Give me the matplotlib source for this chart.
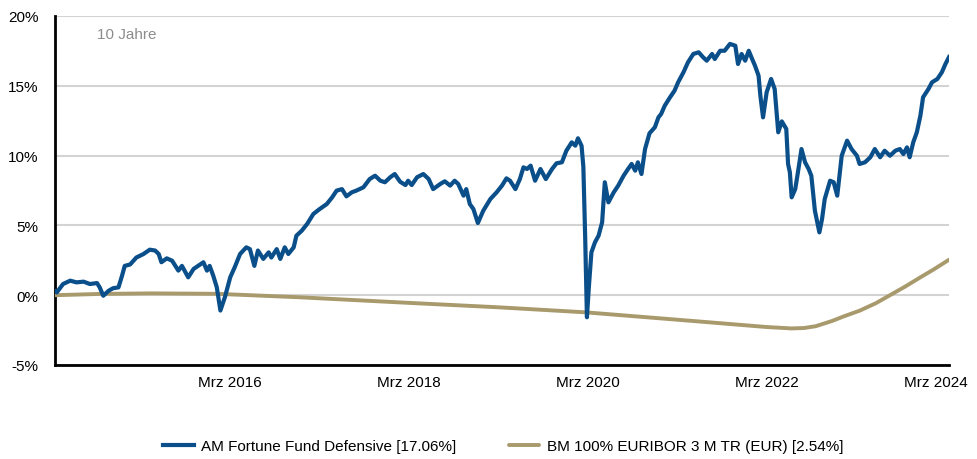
import matplotlib.pyplot as plt
import matplotlib.transforms as mtransforms
import numpy as np

plt.rcParams['font.family'] = ['Liberation Sans', 'DejaVu Sans']

# decimal years, values in %
fund_years = [
    2014.17, 2014.19, 2014.26, 2014.34, 2014.41, 2014.49, 2014.56, 2014.64, 2014.67, 2014.71,
    2014.77, 2014.82, 2014.88, 2014.92, 2014.95, 2015.01, 2015.08, 2015.16, 2015.23, 2015.29,
    2015.33, 2015.36, 2015.42, 2015.48, 2015.55, 2015.59, 2015.66, 2015.72, 2015.77, 2015.83,
    2015.87, 2015.90, 2015.94, 2015.98, 2016.02, 2016.07, 2016.13, 2016.18, 2016.24, 2016.31,
    2016.35, 2016.40, 2016.44, 2016.50, 2016.56, 2016.59, 2016.65, 2016.69, 2016.74, 2016.78,
    2016.84, 2016.87, 2016.93, 2016.99, 2017.06, 2017.13, 2017.21, 2017.27, 2017.32, 2017.38,
    2017.43, 2017.49, 2017.54, 2017.62, 2017.69, 2017.75, 2017.81, 2017.86, 2017.92, 2017.97,
    2018.03, 2018.09, 2018.12, 2018.16, 2018.22, 2018.29, 2018.35, 2018.40, 2018.48, 2018.53,
    2018.59, 2018.64, 2018.68, 2018.74, 2018.77, 2018.81, 2018.85, 2018.90, 2018.96, 2019.04,
    2019.11, 2019.17, 2019.22, 2019.26, 2019.32, 2019.37, 2019.41, 2019.45, 2019.49, 2019.54,
    2019.60, 2019.66, 2019.73, 2019.78, 2019.84, 2019.89, 2019.95, 2019.99, 2020.02, 2020.06,
    2020.08, 2020.10, 2020.12, 2020.14, 2020.17, 2020.21, 2020.25, 2020.29, 2020.32, 2020.36,
    2020.42, 2020.47, 2020.53, 2020.58, 2020.62, 2020.66, 2020.69, 2020.73, 2020.77, 2020.82,
    2020.88, 2020.92, 2020.95, 2020.99, 2021.05, 2021.10, 2021.14, 2021.20, 2021.25, 2021.31,
    2021.37, 2021.42, 2021.46, 2021.52, 2021.55, 2021.61, 2021.66, 2021.72, 2021.78, 2021.81,
    2021.85, 2021.89, 2021.93, 2021.96, 2022.00, 2022.04, 2022.06, 2022.09, 2022.13, 2022.18,
    2022.22, 2022.26, 2022.30, 2022.35, 2022.37, 2022.39, 2022.41, 2022.45, 2022.48, 2022.52,
    2022.56, 2022.60, 2022.63, 2022.67, 2022.72, 2022.75, 2022.78, 2022.84, 2022.88, 2022.92,
    2022.97, 2023.03, 2023.08, 2023.14, 2023.17, 2023.23, 2023.29, 2023.34, 2023.40, 2023.45,
    2023.51, 2023.57, 2023.62, 2023.66, 2023.70, 2023.73, 2023.77, 2023.81, 2023.85, 2023.88,
    2023.94, 2023.98, 2024.04, 2024.09, 2024.13, 2024.17,
]
fund_values = [
    0.30, 0.20, 0.80, 1.04, 0.92, 0.97, 0.80, 0.87, 0.56, -0.04,
    0.32, 0.50, 0.56, 1.40, 2.10, 2.20, 2.70, 2.95, 3.26, 3.20,
    2.95, 2.36, 2.64, 2.47, 1.76, 2.10, 1.28, 1.88, 2.10, 2.36,
    1.76, 2.10, 1.40, 0.56, -1.10, -0.15, 1.28, 2.00, 2.95, 3.43,
    3.30, 2.10, 3.20, 2.60, 3.07, 2.70, 3.30, 2.60, 3.43, 2.95,
    3.43, 4.26, 4.62, 5.10, 5.82, 6.17, 6.53, 7.01, 7.49, 7.60,
    7.08, 7.37, 7.49, 7.73, 8.32, 8.56, 8.20, 8.09, 8.45, 8.68,
    8.13, 7.89, 8.20, 7.89, 8.45, 8.68, 8.32, 7.60, 7.97, 8.16,
    7.85, 8.20, 7.97, 7.13, 7.60, 6.53, 6.17, 5.17, 6.05, 6.89,
    7.37, 7.85, 8.37, 8.20, 7.60, 8.32, 9.16, 9.04, 9.28, 8.20,
    9.04, 8.32, 9.04, 9.45, 9.52, 10.35, 10.95, 10.71, 11.24, 10.70,
    9.20, 4.26, -1.58, 0.44, 3.07, 3.79, 4.26, 5.22, 8.09, 6.65,
    7.37, 7.85, 8.56, 9.04, 9.40, 8.92, 9.52, 8.68, 10.47, 11.60,
    12.03, 12.74, 12.98, 13.57, 14.18, 14.65, 15.25, 15.97, 16.68, 17.28,
    17.40, 17.04, 16.80, 17.28, 16.92, 17.51, 17.51, 18.00, 17.87, 16.56,
    17.28, 16.80, 17.51, 17.04, 16.44, 15.72, 14.29, 12.74, 14.53, 15.49,
    14.77, 11.67, 12.45, 11.91, 9.40, 8.80, 7.01, 7.60, 8.80, 10.47,
    9.52, 9.04, 8.56, 6.05, 4.50, 5.46, 6.89, 8.20, 8.09, 7.13,
    9.99, 11.07, 10.47, 9.99, 9.40, 9.52, 9.88, 10.47, 9.88, 10.35,
    9.99, 10.35, 10.47, 10.11, 10.59, 9.88, 10.95, 11.67, 12.86, 14.18,
    14.77, 15.25, 15.49, 15.97, 16.56, 17.06,
]

bench_years = [2014.17, 2014.67, 2015.23, 2015.98, 2016.91, 2018.13, 2019.14, 2020.11,
               2021.37, 2022.13, 2022.41, 2022.55, 2022.68, 2022.86, 2023.00, 2023.17,
               2023.35, 2023.51, 2023.68, 2023.85, 2024.00, 2024.17]
bench_values = [0.00, 0.09, 0.13, 0.10, -0.15, -0.55, -0.87, -1.23,
                -1.88, -2.28, -2.38, -2.35, -2.22, -1.85, -1.50, -1.11,
                -0.58, 0.00, 0.62, 1.28, 1.85, 2.54]

tick_years = [2016.13, 2018.13, 2020.13, 2022.13, 2024.13]
tick_labels = ["Mrz 2016", "Mrz 2018", "Mrz 2020", "Mrz 2022", "Mrz 2024"]
y_ticks = [-5, 0, 5, 10, 15, 20]

fund_label = "AM Fortune Fund Defensive [17.06%]"
bench_label = "BM 100% EURIBOR 3 M TR (EUR) [2.54%]"

fig = plt.figure(figsize=(9.77, 4.60), dpi=100)
ax = fig.add_axes([55 / 977, 94 / 460, 894 / 977, 349 / 460])

ax.plot(bench_years, bench_values, color="#A89A6C", lw=2.8, label=bench_label,
        solid_capstyle="round", zorder=3)
ax.plot(fund_years, fund_values, color="#0B4F8A", lw=3.0, label=fund_label,
        solid_joinstyle="round", zorder=4)

ax.set_xlim(2014.17, 2024.17)
ax.set_ylim(-5, 20)
ax.set_yticks(y_ticks)
ax.set_yticklabels([f"{v}%" for v in y_ticks])
ax.set_xticks(tick_years)
ax.set_xticklabels(tick_labels)
ax.tick_params(axis="y", length=0, pad=12, labelsize=11)
ax.tick_params(axis="x", length=0, pad=7, labelsize=11)

# last label pulled inside the figure
last = ax.get_xticklabels()[-1]
last.set_transform(last.get_transform() + mtransforms.ScaledTranslation(-10 / 100, 0, fig.dpi_scale_trans))

ax.grid(axis="y", color="#D3D3D3", lw=1.5, zorder=1)
ax.set_axisbelow(True)
for s in ["top", "right"]:
    ax.spines[s].set_visible(False)
ax.spines["left"].set_linewidth(2)
ax.spines["bottom"].set_linewidth(2)

ax.text(0.047, 0.948, "10 Jahre", transform=ax.transAxes, color="#8C8C8C",
        fontsize=11, va="center", ha="left")

handles, labels = ax.get_legend_handles_labels()
fig.legend(handles[::-1], labels[::-1], loc="center", bbox_to_anchor=(0.515, 0.028),
           ncol=2, frameon=False, fontsize=11, handlelength=2.0, columnspacing=3.4,
           handletextpad=0.5)

fig.savefig("out.png", dpi=100)
